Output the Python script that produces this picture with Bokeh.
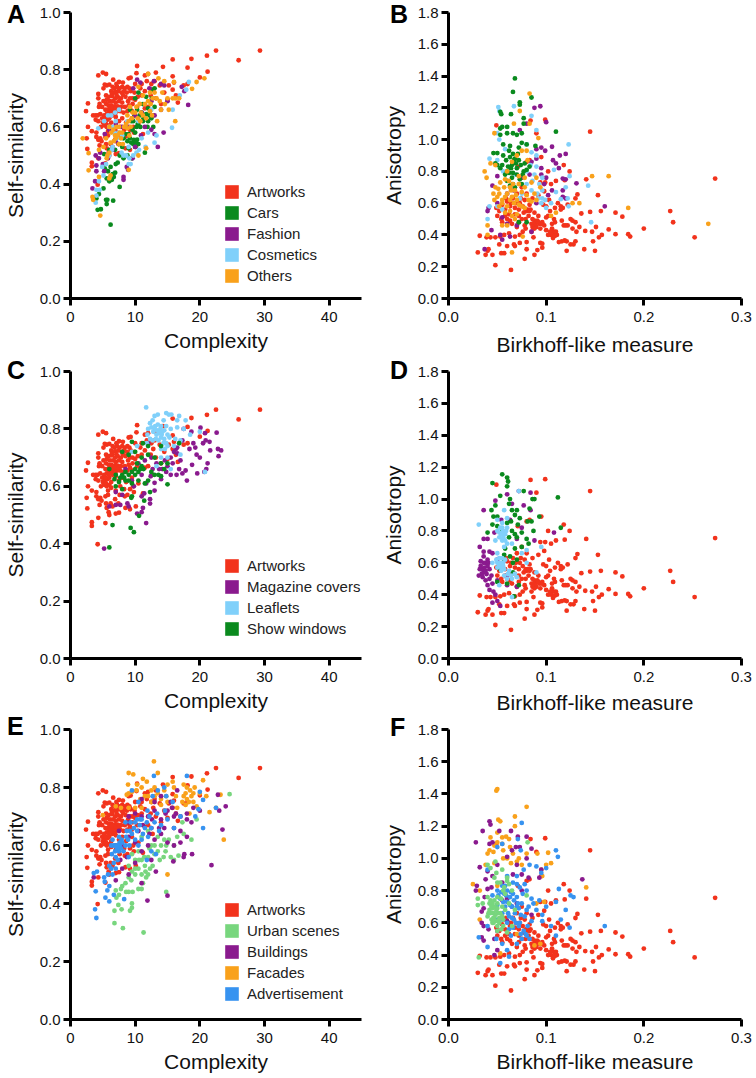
from bokeh.embed import file_html
from bokeh.resources import INLINE
from bokeh.plotting import figure
from bokeh.layouts import column, row
from bokeh.models import FixedTicker, NumeralTickFormatter, Legend, LegendItem, Div, ColumnDataSource
from bokeh.core.properties import value

FONT = "Liberation Sans"
RED, GREEN, PURPLE, SKY, ORANGE, LIME, BLUE = "#F2331C", "#0A8A1E", "#8A1A8E", "#80D0FA", "#F9A11B", "#78D67E", "#3793F0"
NAN = float("nan")

art_c = [(29.3,.867),(26,.833),(22.5,.867),(21.1,.849),(21.2,.793),(20,.773),(18.7,.838),(18.1,.807),(15.8,.836),(14.3,.81),(13.2,.79),(10.3,.813),(10.2,.788),(5,.79),(5.5,.785),(4.3,.78),(11.5,.78),(12,.785),(15.8,.777),(9,.77),(9.3,.772),(6.6,.765),(7.5,.757),(2.7,.682),(2.4,.655),(2.7,.6),(3.3,.585),(2.5,.56),(2.6,.523),(3.3,.475),(3.3,.462),(4.3,.49),(5.4,.472),(4.2,.398),(6,.5),(7,.505),(7.5,.508),(8.5,.525),(9.2,.52),(4.5,.535),(4.3,.555),(4,.58),(4,.565),(4.6,.56),(5.5,.54),(5.6,.525),(6.2,.54),(7.4,.54),
(5.3,.748),(5.6,.745),(6,.748),(6.5,.74),(6.8,.735),(7.2,.74),(7.6,.735),(8,.74),(8.4,.735),(8.8,.74),(9.1,.735),(6.3,.725),(6.9,.722),(7.4,.725),(7.9,.72),(8.3,.725),(8.7,.72),(9.3,.725),(9.9,.72),(4.3,.715),(4.3,.7),(5.5,.71),(5.9,.705),(6.4,.708),(6.9,.7),(7.3,.705),(7.8,.7),(8.5,.705),(9.6,.7),(10.4,.705),(11,.71),(5.6,.695),(6.1,.69),(6.6,.69),(7,.685),(7.5,.69),(8,.685),(4.5,.68),(4.4,.67),(5.5,.68),(5.9,.675),(6.3,.675),(6.8,.672),(7.3,.672),(7.8,.67),(8.4,.67),(9,.675),(9.6,.68),(10.3,.67),(5.4,.66),(5.8,.66),(6.2,.66),(6.7,.658),(7.2,.655),(7.7,.655),(8.2,.65),(8.8,.655),(9.5,.655),(11.5,.665),(12,.67),(12.7,.64),(3.5,.64),(4.2,.64),(4.6,.645),(4.9,.63),(3.9,.625),(4.3,.62),(5,.615),(5.3,.62),(5.7,.625),(6,.63),(6.5,.64),(7,.635),(7.5,.62),(8,.63),(8.6,.615),(9.5,.63),(10.5,.61),(5.2,.605),(5.6,.6),(6,.605),(6.3,.595),(7.7,.6),(8.3,.59),(9.2,.59),(9.8,.58),(11.2,.575),(4.7,.6),(7,.585),(7.6,.57),(8.4,.565),(5.8,.57),
(11,.75),(11.8,.76),(12.5,.75),(13,.76),(13.8,.745),(14.5,.72),(15.2,.745),(15.8,.73),(16.3,.71),(16,.755),(17.5,.745),(18.1,.75),(15,.695),(14,.68),(13.2,.7),(12.4,.71),(11.5,.725),(12.8,.73),(10,.75),(10.8,.735),(16.6,.685),(4.8,.55),(5.9,.51),(6.5,.53),(5.4,.565),(6.9,.555),(8.8,.57),(9.7,.6),(10.1,.53),
(5.1,.69),(6.4,.715),(7.1,.712),(8.1,.712),(6.1,.67),(6.5,.668),(7,.665),(7.5,.665),(6,.65),(6.4,.648),(6.9,.645),(5.6,.645),(5.2,.64),(5.4,.63),(5.9,.64),(6.3,.615),(5.5,.61),(5.8,.585),(9.2,.7),(8.9,.69),(9.2,.665),(10,.695),(8.1,.755),(7.1,.75),(5.1,.735),(4.9,.67),(3.9,.64)]

art_b = [(.273,.755),(.252,.385),(.23,.48),(.227,.55),(.2,.44),(.186,.39),(.184,.405),(.178,.515),(.171,.54),(.171,.405),(.164,.435),(.156,.55),(.157,.4),(.154,.385),(.151,.45),(.15,.3),(.153,.65),(.145,.545),(.147,.42),(.148,.36),(.145,1.05),(.141,.75),(.14,.425),(.139,.31),(.136,.535),(.134,.45),(.132,.655),(.13,.63),(.13,.48),(.13,.36),(.131,.42),(.127,.49),(.125,.5),(.122,.59),(.124,.8),(.118,.84),(.119,.745),(.117,.57),(.115,.58),(.112,.6),(.118,.46),(.12,.46),(.122,.46),(.116,.49),(.116,.36),(.119,.365),(.121,.36),(.113,.355),(.127,.44),(.128,.34),(.125,.34),(.121,.3),(.111,.4),(.108,.42),(.11,.42),(.106,.44),(.105,.4),(.107,.38),(.106,.47),(.104,.55),(.103,.62),(.102,.8),(.11,.74),(.105,.72),(.098,.675),(.099,.73),(.094,.73),(.097,.59),(.1,.58),(.102,.52),(.096,.48),(.093,.47),(.09,.48),(.088,.49),(.086,.5),(.085,.47),(.09,.45),(.094,.44),(.098,.46),(.092,.52),(.088,.54),(.084,.56),(.08,.55),(.082,.52),(.077,.54),(.075,.5),(.072,.48),(.079,.44),(.076,.42),(.073,.4),(.068,.39),(.062,.41),(.057,.4),(.053,.39),(.048,.385),(.043,.385),(.039,.385),(.032,.395),(.03,.29),(.038,.275),(.04,.3),(.041,.31),(.045,.275),(.048,.21),(.054,.285),(.057,.285),(.064,.18),(.06,.33),(.052,.34),(.067,.34),(.068,.33),(.073,.35),(.078,.25),(.08,.31),(.08,.355),(.087,.385),(.088,.275),(.091,.305),(.094,.35),(.096,.32),(.096,.345),(.085,.42),(.078,.46),(.07,.45),(.065,.47),(.06,.5),(.055,.48),(.05,.52),(.052,.55),(.058,.56),(.063,.58),(.068,.57),(.073,.6),(.078,.62),(.083,.59),(.072,.52),(.062,.53),(.09,1.04),(.084,1.12),(.099,1.125),(.049,1.09),(.095,.89),(.092,.65),(.086,.63),(.08,.66),(.075,.7),(.07,.66),(.066,.63),(.06,.61),(.071,.83),(.08,.86),(.083,.87),(.109,.57),(.1,.51),(.108,.5),(.109,.48),(.115,.56),
(.087,.47),(.089,.46),(.091,.49),(.086,.45),(.088,.44),(.092,.48),(.095,.47),(.083,.55),(.081,.56),(.079,.56),(.076,.58),(.072,.56),(.068,.53),(.063,.49),(.058,.52),(.054,.5),(.049,.57),(.055,.59),(.059,.63),(.064,.6),(.069,.6),(.074,.63),(.079,.5),(.1,.43),(.102,.4),(.104,.42),(.109,.395)]

cars_c = [(6.2,.258),(4.2,.31),(4.7,.312),(5.6,.33),(5.5,.345),(5.7,.345),(6.6,.342),(4,.35),(4.4,.365),(5.1,.385),(7.6,.39),(6,.41),(6.4,.415),(6.7,.425),(5.6,.42),(6.9,.44),(6.5,.435),(5.3,.455),(5.8,.445),(6.2,.46),(7,.47),(7.3,.475),(5.2,.505),(6,.52),(6.9,.52),(7.6,.5),(8.2,.49),(8.8,.5),(9.5,.49),(9,.525),(10,.53),(9.4,.545),(10.5,.54),(9.8,.555),(10.3,.555),(8.8,.55),(8.2,.56),(9,.575),(9.6,.59),(10.2,.6),(10.8,.6),(11.5,.51),(11.2,.62),(12,.62),(12.5,.63),(11.7,.645),(12.8,.6),(11,.65),(9.9,.64),(10.3,.66),(9.4,.62),(9.2,.66),(12,.665),(12.6,.7),(13,.735),(12.5,.73),(11.7,.705),(11.2,.68),(10.5,.72),(10,.58),(9.2,.56),(9.7,.54),(10.1,.545),(8.5,.575),(8,.53),(7.5,.54),(10.7,.64),(11.3,.63),(11.9,.6),(12.2,.64),(13,.67),(10,.7),(9.7,.62),(10.4,.61)]
fashion_c = [(3.4,.385),(3.8,.41),(4,.445),(4,.465),(3.9,.5),(4.4,.49),(4.6,.51),(5,.47),(5.2,.445),(5.8,.49),(6.5,.52),(7,.55),(8.2,.425),(8.2,.415),(8.7,.46),(8.9,.45),(9.6,.49),(10,.53),(10.9,.57),(12.5,.59),(13,.575),(13.5,.53),(14.4,.58),(13,.64),(14,.66),(12.5,.69),(12.2,.735),(10.3,.765),(10.8,.755),(9.7,.735),(12.9,.76),(14,.75),(14.5,.745),(17.2,.74),(17.6,.725),(18.2,.677),(15,.69),(11,.65),(9,.6),(8,.6),(7,.61),(6,.59),(5.3,.575),(11.5,.6),(10,.64)]
cosm_c = [(3.9,.335),(4,.38),(4.5,.38),(4,.36),(4.4,.41),(4.9,.46),(5.5,.47),(6,.5),(6.5,.53),(6,.6),(5.8,.64),(4.3,.595),(7,.62),(6.9,.65),(7.4,.58),(8.2,.5),(9,.47),(9.3,.47),(9.1,.49),(10.2,.51),(10.6,.52),(11.6,.53),(13,.545),(13.3,.57),(15.7,.597),(15.8,.66),(18.3,.757),(17.9,.73),(16.9,.71),(12,.58),(11,.56),(9,.53),(8,.57),(7.5,.66),(8.8,.62),(10.5,.62),(12.5,.66),(6.3,.64),(6.5,.6),(7.2,.56),(6.7,.58),(7.9,.51),(8.6,.5),(6.4,.52),(5.1,.43),(9.7,.5),(5.2,.62)]
other_c = [(1.9,.56),(2.8,.508),(2.8,.448),(3.4,.355),(3.5,.345),(4.6,.29),(4.4,.425),(4.4,.52),(5.1,.53),(5.7,.5),(6.2,.43),(6,.42),(6.2,.545),(7,.56),(7.6,.58),(8.1,.54),(7.1,.6),(6.3,.58),(6,.6),(6.9,.57),(7.8,.56),(8.3,.6),(8.8,.595),(9,.62),(8.8,.64),(9.5,.63),(10,.65),(10.4,.63),(10.9,.65),(11.2,.64),(11.7,.63),(12.3,.655),(12.6,.64),(13.4,.62),(14,.66),(14.6,.68),(15.2,.66),(16.2,.62),(16.2,.7),(16.8,.7),(15.8,.7),(15,.7),(13.8,.69),(12.7,.7),(12.3,.72),(13,.72),(13.6,.77),(14.5,.76),(16,.757),(18.8,.733),(19.5,.757),(20.7,.77),(12,.785),(10.5,.74),(11.2,.71),(10.5,.5),(11.7,.525),(9,.45),(9.1,.57),(7.5,.54),(6.7,.55),(7.3,.57),(8,.58),(6.6,.59),(7.5,.6),(8.6,.61),(9.3,.6),(9.6,.65),(10.2,.67),(10.7,.68),(9.2,.67),(11.5,.68),(12,.69),(13.3,.7),(14.2,.72),(6,.51),(5.5,.56),(5.6,.49),(10.8,.62),(12.4,.68)]

cars_b = [(.068,1.385),(.066,1.3),(.073,1.235),(.073,1.22),(.085,1.265),(.053,1.175),(.054,1.16),(.064,1.16),(.077,1.135),(.077,1.1),(.06,1.08),(.053,1.07),(.055,1.08),(.053,1.03),(.06,1.04),(.066,1.04),(.07,1.03),(.075,1.04),(.11,1.05),(.089,.96),(.08,.97),(.072,.95),(.063,.96),(.056,.97),(.046,.915),(.05,.915),(.056,.9),(.063,.89),(.068,.88),(.072,.87),(.078,.85),(.083,.83),(.07,.82),(.065,.84),(.06,.8),(.055,.84),(.05,.84),(.07,.78),(.077,.8),(.065,.76),(.058,.78),(.06,.74),(.075,.72),(.068,.7),(.063,.71),(.072,.48),(.08,.48),(.064,.82),(.067,.87),(.069,.85),(.066,.91),(.062,.93),(.059,.87),(.061,.83),(.062,.79),(.074,.84),(.076,.78),(.08,.81),(.073,.75),(.066,.72),(.053,.82),(.048,.85),(.071,.91),(.075,.98),(.066,.79)]
fashion_b = [(.094,1.21),(.088,1.2),(.08,1.1),(.073,1.06),(.1,1.11),(.106,.955),(.095,.95),(.099,.93),(.107,.87),(.114,.9),(.12,.91),(.11,.85),(.117,.755),(.113,.82),(.09,.88),(.083,.78),(.095,.78),(.12,.75),(.131,.725),(.117,.68),(.12,.63),(.117,.64),(.16,.58),(.102,.65),(.09,.6),(.05,.77),(.045,.71),(.041,.57),(.04,.55),(.05,.6),(.055,.51),(.06,.47),(.053,.4),(.055,.37),(.063,.39),(.037,.31),(.044,.43),(.07,.46),(.085,.42),(.075,.76),(.067,.68),(.06,.66),(.095,.82),(.1,.76),(.09,.94),(.085,.86),(.098,.72),(.106,.68)]
cosm_b = [(.051,1.205),(.052,1.18),(.067,1.21),(.085,1.15),(.09,1.06),(.05,1.04),(.052,1.0),(.058,.94),(.08,.97),(.085,.92),(.042,.88),(.05,.87),(.056,.8),(.09,.83),(.096,.76),(.108,.81),(.123,.97),(.124,.77),(.12,.7),(.143,.71),(.11,.67),(.096,.63),(.115,.625),(.122,.63),(.123,.58),(.146,.48),(.04,.5),(.05,.58),(.042,.58),(.055,.56),(.08,.72),(.085,.68),(.091,.66),(.073,.63),(.068,.78),(.095,.6),(.1,.57),(.093,.72),(.088,.78),(.084,.84),(.09,.9),(.096,.68),(.092,.63),(.099,.62),(.105,.6),(.086,.74),(.08,.8),(.075,.66)]
other_b = [(.083,1.29),(.073,1.18),(.083,1.1),(.067,1.1),(.047,1.04),(.037,.8),(.039,.76),(.043,.85),(.048,.84),(.06,.8),(.065,.86),(.07,.9),(.075,.93),(.081,.87),(.09,.76),(.094,.7),(.085,.73),(.078,.7),(.072,.72),(.068,.68),(.063,.7),(.058,.75),(.053,.73),(.048,.7),(.046,.66),(.05,.64),(.055,.62),(.06,.66),(.065,.64),(.07,.62),(.075,.67),(.08,.65),(.085,.61),(.09,.62),(.055,.6),(.052,.58),(.058,.54),(.065,.52),(.07,.53),(.075,.58),(.06,.46),(.055,.46),(.04,.46),(.04,.4),(.076,.39),(.065,.29),(.147,.77),(.164,.77),(.184,.57),(.266,.47),(.134,.6),(.127,.6),(.11,.54),(.105,.52),(.092,1.01),(.08,.93),(.066,.72),(.064,.68),(.069,.65),(.067,.6),(.063,.62),(.058,.64),(.052,.66),(.047,.62),(.051,.69),(.057,.7),(.062,.74),(.072,.77),(.078,.76),(.082,.62),(.088,.66),(.06,.58),(.063,.55),(.068,.5),(.072,.59),(.078,.57)]

mag_c = [(5.2,.383),(11.7,.472),(10.3,.505),(11,.51),(11.2,.525),(9,.53),(7,.535),(7.7,.535),(6,.53),(8.8,.54),(12.3,.54),(12.3,.555),(11,.565),(11.4,.575),(13,.585),(8,.57),(7,.58),(9.8,.6),(11.7,.61),(13,.612),(14,.625),(12.4,.635),(11,.64),(15.5,.64),(16.4,.64),(17.3,.645),(18,.62),(19.6,.645),(20.7,.65),(21,.66),(21.2,.68),(18.8,.675),(19.5,.71),(19.3,.735),(18.4,.73),(19,.75),(20.5,.75),(20.9,.76),(22.9,.705),(22.8,.73),(23.3,.725),(21.6,.725),(22.6,.787),(21.5,.755),(20.8,.785),(20.1,.804),(18.7,.79),(17.5,.8),(17.3,.76),(16.5,.735),(16.5,.715),(15.5,.7),(15,.67),(14.2,.66),(13.3,.68),(12.5,.7),(11.5,.69),(10.5,.68),(12,.75),(9.5,.62),(8.5,.66),(17.8,.655),(16.8,.66),(17,.69),(15.8,.68),(14.8,.65),(20,.7),(16,.72),(16.3,.73),(14.6,.69),(13.7,.66),(12.7,.66)]
leaf_c = [(11.7,.875),(13,.845),(13.5,.85),(14.8,.855),(15.2,.85),(15.6,.85),(16.8,.845),(16.5,.83),(17.8,.83),(14.4,.83),(12.7,.83),(12.3,.82),(13.5,.815),(14,.81),(14.8,.81),(15.5,.8),(16.5,.805),(17.5,.8),(18.5,.78),(20,.79),(13,.8),(12.8,.79),(13.3,.78),(13.7,.785),(14.2,.79),(14,.77),(13.6,.76),(14.5,.765),(15,.78),(14.4,.75),(15,.74),(12.3,.765),(11.8,.75),(16.2,.765),(17,.76),(16,.74),(17,.71),(15,.7),(14,.7),(13.3,.67),(15.5,.66),(20.8,.65),(9.5,.72),(10.3,.74),(13.1,.81),(13.9,.8),(14.5,.795),(13.4,.795),(12.5,.805),(14.1,.78),(14.8,.75),(13.2,.765),(12.7,.76),(15.3,.77),(14.6,.73),(14,.73),(12,.8),(11.9,.78)]
show_c = [(6.5,.465),(6,.387),(9.3,.455),(9.8,.44),(10.6,.497),(11.4,.55),(12.3,.58),(9.5,.565),(9.4,.56),(15,.607),(8,.59),(7,.6),(6,.66),(7,.64),(7.7,.63),(8.5,.62),(9,.64),(9.5,.65),(10,.66),(10.5,.65),(11,.67),(10.5,.62),(11.5,.61),(8.5,.65),(7.5,.615),(9.5,.61),(12,.62),(13,.64),(13.6,.64),(14.5,.66),(15,.68),(14,.68),(13,.7),(12,.71),(11,.7),(10,.72),(9,.71),(8,.72),(9.5,.755),(11.2,.75),(12,.74),(14,.74),(16.8,.75),(14,.635),(12.5,.65),(10.3,.68),(10.8,.66),(8,.64),(9,.62),(8.3,.63),(10,.64),(11.3,.66),(6.8,.625)]

mag_b = [(.032,.7),(.036,.64),(.033,.61),(.032,.56),(.031,.52),(.034,.56),(.036,.54),(.038,.6),(.04,.58),(.042,.56),(.044,.52),(.038,.49),(.04,.46),(.042,.43),(.046,.42),(.048,.4),(.05,.36),(.053,.33),(.045,.35),(.04,.62),(.036,.67),(.04,.75),(.042,.67),(.045,.66),(.05,.62),(.055,.58),(.06,.52),(.05,.49),(.06,.46),(.07,.45),(.036,.93),(.048,.99),(.06,1.03),(.072,1.05),(.084,1.04),(.065,.97),(.077,.96),(.084,.93),(.075,.82),(.07,.75),(.088,.74),(.063,.87),(.054,.87),(.047,.79),(.108,.79),(.036,.75),(.038,.55),(.034,.53),(.033,.58),(.036,.6),(.039,.53),(.042,.5),(.045,.47),(.035,.51),(.037,.57),(.041,.6)]
leaf_b = [(.031,.84),(.072,1.05),(.057,.93),(.095,.7),(.065,.385),(.05,.87),(.055,.85),(.053,.82),(.056,.8),(.058,.78),(.052,.76),(.048,.74),(.055,.74),(.06,.72),(.065,.72),(.06,.82),(.06,.88),(.052,.63),(.053,.6),(.056,.58),(.05,.57),(.054,.55),(.057,.52),(.06,.5),(.065,.5),(.062,.55),(.068,.53),(.05,.66),(.045,.6),(.052,.46),(.08,.68),(.075,.66),(.09,.54),(.08,.6),(.05,.8),(.057,.7),(.058,.62),(.055,.63),(.054,.78),(.056,.76),(.058,.74),(.052,.79),(.055,.82),(.059,.8),(.05,.6),(.052,.58),(.054,.6),(.057,.56),(.054,.57),(.056,.6),(.049,.62),(.064,.52),(.061,.53),(.07,.51)]
show_b = [(.055,1.155),(.06,1.135),(.061,1.11),(.06,1.08),(.045,1.1),(.077,1.05),(.053,1.02),(.086,1),(.088,1),(.063,1),(.062,.97),(.048,.96),(.044,.93),(.046,.89),(.05,.89),(.065,.93),(.07,.93),(.068,.9),(.073,.88),(.081,.86),(.085,.86),(.093,.89),(.083,.94),(.112,1.01),(.115,.82),(.087,.8),(.075,.79),(.045,.84),(.05,.83),(.06,.85),(.04,.79),(.055,.8),(.065,.8),(.07,.76),(.08,.75),(.082,.72),(.075,.7),(.068,.69),(.058,.69),(.063,.64),(.07,.62),(.057,.62),(.053,.56),(.066,.54),(.072,.46),(.06,.47),(.05,.48),(.067,.39),(.062,.76),(.068,.78),(.071,.84),(.064,.86),(.057,.65),(.066,.6)]

urban_c = [(11.3,.3),(8.1,.315),(6.8,.332),(6.8,.375),(7.4,.395),(7.9,.38),(9.2,.375),(9.5,.385),(9.5,.4),(14.8,.44),(7.5,.43),(7.1,.42),(7,.445),(7.8,.45),(8,.46),(8.5,.47),(9,.44),(9.6,.44),(10.5,.45),(11,.45),(11.2,.47),(9,.49),(9.5,.51),(10,.5),(10.5,.52),(11,.5),(11.7,.49),(12,.5),(9,.53),(10,.55),(11,.55),(11.5,.53),(12,.56),(12.7,.53),(13,.57),(13.5,.58),(14,.6),(14.7,.58),(15.5,.56),(16,.55),(16.7,.565),(16,.6),(15.2,.62),(14.5,.62),(13.5,.63),(12.5,.6),(10.5,.58),(9.5,.57),(18.7,.62),(19.5,.69),(17.5,.64),(16.5,.63),(24.6,.777),(17.3,.68),(12,.65),(11,.63),(12.2,.59),(13,.6),(11.4,.56),(10.6,.55),(10,.52),(9.4,.48),(8.6,.44),(13.8,.55),(14.4,.56),(12.3,.52),(11.6,.51),(14.8,.6)]
bldg_c = [(15,.427),(11.9,.41),(21.8,.532),(18.8,.57),(17.6,.57),(17.5,.56),(15.9,.545),(13.2,.51),(12.5,.55),(11,.47),(3.6,.49),(7,.48),(9,.5),(8,.52),(10,.54),(11,.58),(12,.6),(13,.62),(14,.64),(15,.61),(16,.6),(17,.61),(18,.63),(17,.65),(16,.66),(14.5,.66),(12.5,.66),(10.5,.65),(9,.63),(8,.6),(7.5,.65),(7,.6),(9,.7),(9,.68),(10,.71),(11,.7),(12,.7),(13,.72),(14,.69),(15,.72),(16,.7),(17,.7),(18,.69),(18.7,.68),(20,.72),(16.5,.79),(14,.77),(13,.75),(23,.72),(23.5,.655),(24,.735),(22.8,.775),(19,.73),(18,.71),(11,.76),(15.5,.75),(12.2,.64),(13.7,.66),(11.2,.67),(10,.61),(14.7,.71),(15.7,.73),(16.3,.71),(12.6,.69),(8.7,.56),(7.7,.55)]
fac_c = [(12.9,.89),(13.5,.85),(9,.85),(9.7,.845),(8.9,.81),(10.3,.81),(11.2,.83),(9,.78),(8.7,.775),(9.5,.785),(10.2,.79),(11,.8),(11.5,.77),(12.5,.79),(13.5,.78),(14.5,.79),(15,.81),(15.8,.82),(16,.8),(17.5,.81),(18,.8),(18.5,.79),(19.2,.8),(17.5,.77),(18,.76),(18.7,.77),(19,.75),(19.5,.735),(17.3,.75),(16.5,.73),(15,.75),(14,.74),(12.5,.75),(11,.73),(10,.73),(9,.73),(7.8,.73),(7,.735),(5,.705),(17.8,.74),(20,.78),(20.5,.825),(21,.77),(21.5,.715),(23.2,.775),(23.7,.62),(15,.5),(22.5,.73),(11.8,.82),(13,.8),(16.3,.77),(18.4,.71),(17.8,.78),(18.3,.75),(19,.78),(10.8,.76),(12,.77),(13,.77),(14,.76),(14.8,.77)]
adv_c = [(4,.35),(3.8,.38),(3.9,.442),(5.4,.42),(6,.407),(6.7,.43),(8.3,.415),(5.7,.445),(5.3,.475),(5.2,.49),(4.1,.51),(3.6,.505),(6,.46),(6.5,.5),(7,.52),(6,.53),(7,.56),(7.5,.58),(6.7,.6),(7.3,.6),(7.8,.59),(8,.61),(8.5,.6),(6.5,.62),(7.5,.63),(8.7,.65),(9.5,.64),(10,.62),(10.5,.6),(11,.62),(9.3,.68),(10,.68),(10.7,.67),(11.5,.66),(12,.63),(12.5,.58),(13.2,.57),(11.8,.55),(13,.68),(14,.67),(15,.69),(16,.66),(15.8,.75),(14.5,.8),(13.5,.79),(12.9,.84),(11.9,.72),(10.5,.75),(9.5,.79),(12.7,.77),(14.8,.77),(17,.7),(18,.84),(19.3,.7),(20,.785),(20.5,.757),(20.5,.66),(19.8,.725),(22.5,.73),(8.5,.68),(9,.56),(7.2,.59),(7.6,.61),(6.9,.58),(8.2,.58),(7,.6),(7.6,.6),(6.3,.6),(6.7,.54),(7.9,.62),(8.9,.62),(9.2,.65),(10.3,.65),(11.2,.64),(9.1,.6),(12.5,.66),(13.7,.65),(10.8,.69),(11.8,.68),(5.8,.5),(6.3,.52),(9.8,.66),(10.3,.69),(11,.69),(8.6,.63),(7.3,.55),(6.4,.57),(12.2,.7),(13.4,.71),(14.6,.72)]

urban_b = [(.031,.385),(.03,.75),(.03,.71),(.035,.72),(.04,.76),(.042,.72),(.045,.69),(.05,.66),(.047,.63),(.052,.6),(.05,.58),(.056,.62),(.045,.6),(.04,.64),(.047,.7),(.05,.76),(.056,.8),(.05,.85),(.047,.88),(.043,.94),(.048,.98),(.055,.93),(.06,.86),(.065,.8),(.062,.72),(.058,.68),(.054,.56),(.06,.54),(.065,.58),(.081,1.1),(.068,.68),(.05,.72),(.046,.66),(.044,.62),(.08,.77),(.055,.7),(.06,.88),(.04,.96),(.043,.66),(.046,.63),(.048,.65),(.045,.72),(.042,.68),(.048,.61),(.052,.63),(.05,.69),(.053,.66),(.047,.74),(.054,.75),(.057,.82),(.053,.85),(.049,.91),(.05,.55),(.056,.58),(.044,.7),(.049,.68),(.046,.6),(.051,.61),(.043,.74),(.055,.64),(.058,.78),(.062,.84),(.041,.66)]
bldg_b = [(.032,.945),(.029,.83),(.028,.8),(.028,1.1),(.035,1.17),(.042,1.23),(.043,1.21),(.042,1.09),(.045,1.1),(.052,1.17),(.064,1.17),(.071,1.135),(.08,1.135),(.069,1.07),(.065,1.05),(.073,1.07),(.085,1.06),(.095,.93),(.093,.88),(.137,.87),(.082,.88),(.075,.8),(.07,.72),(.065,.7),(.06,.75),(.055,.85),(.05,.96),(.045,.89),(.04,.92),(.036,.69),(.034,.67),(.034,.6),(.036,.58),(.034,.51),(.036,.49),(.047,.5),(.05,.43),(.047,.4),(.06,.61),(.07,.96),(.06,1.01),(.08,1.0),(.055,.74),(.085,.65),(.04,.81),(.038,.87),(.044,.82),(.037,.76),(.041,.56),(.05,.55),(.066,.9),(.075,.9)]
fac_b = [(.05,1.43),(.049,1.42),(.08,1.32),(.068,1.26),(.051,1.24),(.053,1.23),(.068,1.2),(.05,1.16),(.043,1.13),(.055,1.13),(.059,1.135),(.062,1.12),(.05,1.1),(.047,1.08),(.04,1.03),(.042,1.05),(.046,1.04),(.056,1.0),(.06,1.0),(.066,1.03),(.07,.98),(.075,.96),(.08,1.03),(.091,1.03),(.102,1.035),(.1,.96),(.105,.97),(.095,.93),(.096,.89),(.141,.82),(.025,.84),(.032,.8),(.032,.62),(.038,.96),(.05,.83),(.06,.76),(.09,.72),(.098,.73),(.088,.46),(.094,.47),(.053,.41),(.07,.53),(.064,.97),(.056,1.05),(.047,.97),(.072,1.0),(.055,1.09),(.063,1.07)]
adv_b = [(.075,1.22),(.055,1.09),(.071,1.12),(.074,1.05),(.05,1.07),(.11,1.05),(.112,1.01),(.1,.94),(.095,.91),(.09,.95),(.083,.96),(.077,.93),(.07,.89),(.066,.85),(.06,.89),(.055,.83),(.05,.8),(.045,.77),(.04,.93),(.05,.71),(.055,.66),(.06,.6),(.065,.7),(.07,.76),(.075,.72),(.08,.8),(.085,.75),(.09,.68),(.096,.65),(.1,.7),(.11,.73),(.113,.81),(.125,.77),(.128,.76),(.12,.68),(.115,.62),(.16,.58),(.124,.57),(.11,.52),(.105,.58),(.096,.61),(.085,.61),(.08,.52),(.075,.5),(.07,.47),(.064,.52),(.06,.43),(.055,.47),(.049,.5),(.04,.45),(.031,.51),(.053,.35),(.062,.39),(.07,.84),(.08,.68),(.067,.62),(.072,.58),(.04,.58),(.05,.62),(.057,.78),(.053,.75),(.06,.73),(.063,.76),(.067,.74),(.058,.7),(.061,.66),(.055,.62),(.068,.66),(.072,.69),(.076,.78),(.078,.84),(.073,.82),(.064,.79),(.069,.6),(.062,.56),(.077,.55),(.083,.5),(.081,.58),(.087,.72),(.093,.74),(.071,.72),(.06,.8),(.065,.63),(.074,.65),(.054,.79),(.058,.83),(.063,.71),(.066,.78),(.07,.7),(.059,.77),(.062,.64),(.056,.73),(.051,.77),(.066,.57),(.073,.6),(.078,.64),(.082,.7),(.079,.53),(.074,.53)]

panel_a = [("Artworks",art_c,RED),("Cars",cars_c,GREEN),("Fashion",fashion_c,PURPLE),("Cosmetics",cosm_c,SKY),("Others",other_c,ORANGE)]
panel_b = [("Artworks",art_b,RED),("Fashion",fashion_b,PURPLE),("Cosmetics",cosm_b,SKY),("Cars",cars_b,GREEN),("Others",other_b,ORANGE)]
panel_c = [("Artworks",art_c,RED),("Magazine covers",mag_c,PURPLE),("Leaflets",leaf_c,SKY),("Show windows",show_c,GREEN)]
panel_d = [("Artworks",art_b,RED),("Magazine covers",mag_b,PURPLE),("Show windows",show_b,GREEN),("Leaflets",leaf_b,SKY)]
panel_e = [("Artworks",art_c,RED),("Facades",fac_c,ORANGE),("Urban scenes",urban_c,LIME),("Buildings",bldg_c,PURPLE),("Advertisement",adv_c,BLUE)]
panel_f = [("Artworks",art_b,RED),("Facades",fac_b,ORANGE),("Buildings",bldg_b,PURPLE),("Advertisement",adv_b,BLUE),("Urban scenes",urban_b,LIME)]
legend_a = [("Artworks",RED),("Cars",GREEN),("Fashion",PURPLE),("Cosmetics",SKY),("Others",ORANGE)]
legend_c = [("Artworks",RED),("Magazine covers",PURPLE),("Leaflets",SKY),("Show windows",GREEN)]
legend_e = [("Artworks",RED),("Urban scenes",LIME),("Buildings",PURPLE),("Facades",ORANGE),("Advertisement",BLUE)]
panel_letters = ["A", "B", "C", "D", "E", "F"]

COMPLEX_TICKS = [0, 10, 20, 30, 40]
SELF_TICKS = [0, .2, .4, .6, .8, 1.0]
BIRK_TICKS = [0, .1, .2, .3]
ANISO_TICKS = [0, .2, .4, .6, .8, 1.0, 1.2, 1.4, 1.6, 1.8]


def make(series, is_left, top, frame_h, bottom, lab_off, legend=None, leg_y=0):
    left, frame_w, right = (68, 293, 11) if is_left else (76, 293, 15)
    height = top + frame_h + bottom
    p = figure(width=left + frame_w + right, height=height,
               x_range=(0, 45) if is_left else (0, .3),
               y_range=(0, 1) if is_left else (0, 1.8),
               output_backend="svg", toolbar_location=None,
               min_border_left=left, min_border_right=right, min_border_top=top, min_border_bottom=bottom)
    p.grid.visible = False
    p.outline_line_color = None
    p.background_fill_color = None
    p.border_fill_color = None
    for _, pts, col in series:
        src = ColumnDataSource(dict(x=[a for a, _b in pts], y=[b for _a, b in pts]))
        p.scatter("x", "y", source=src, size=4.8, color=col, line_color=None)
    p.xaxis.ticker = FixedTicker(ticks=COMPLEX_TICKS if is_left else BIRK_TICKS)
    p.yaxis.ticker = FixedTicker(ticks=SELF_TICKS if is_left else ANISO_TICKS)
    p.yaxis.formatter = NumeralTickFormatter(format="0.0")
    p.xaxis.formatter = NumeralTickFormatter(format="0" if is_left else "0.0")
    p.xaxis.axis_label = "Complexity" if is_left else "Birkhoff-like measure"
    p.yaxis.axis_label = "Self-similarity" if is_left else "Anisotropy"
    for ax in (p.xaxis[0], p.yaxis[0]):
        ax.axis_line_width = 3
        ax.axis_line_color = "black"
        ax.major_tick_line_width = 3
        ax.major_tick_line_color = "black"
        ax.major_tick_in = 0
        ax.major_tick_out = 7
        ax.minor_tick_line_color = None
        ax.major_label_text_font = FONT
        ax.major_label_text_font_size = "15px"
        ax.major_label_text_color = "#111111"
        ax.axis_label_text_font = FONT
        ax.axis_label_text_font_size = "21px"
        ax.axis_label_text_font_style = "normal"
        ax.axis_label_text_color = "#111111"
    p.xaxis[0].major_label_standoff = 6
    p.yaxis[0].major_label_standoff = 3
    p.xaxis[0].axis_label_standoff = lab_off
    p.yaxis[0].axis_label_standoff = 10
    if legend:
        items = []
        for name, col in legend:
            r = p.quad(left=[NAN], right=[NAN], top=[NAN], bottom=[NAN], color=col, line_color=None)
            items.append(LegendItem(label=value(name), renderers=[r]))
        lg = Legend(items=items, location=(153, leg_y), orientation="vertical",
                    background_fill_alpha=0, border_line_color=None, padding=0, margin=0,
                    glyph_width=17, glyph_height=17, label_height=17, label_width=30,
                    spacing=4, label_standoff=7, label_text_font=FONT,
                    label_text_font_size="15px", label_text_color="#222222")
        p.add_layout(lg, "center")
    return p


def letter(txt, left, top):
    return Div(text=txt, width=30, height=26, margin=0,
               styles={"position": "absolute", "left": f"{left}px", "top": f"{top}px", "z-index": "5",
                       "font-family": FONT, "font-weight": "bold", "font-size": "25px",
                       "line-height": "25px", "color": "black"})


a = make(panel_a, True, 12, 292, 54, 4, legend_a, 14)
b = make(panel_b, False, 12, 292, 54, 8)
c = make(panel_c, True, 13, 292, 53, 4, legend_c, 21)
d = make(panel_d, False, 13, 292, 53, 6)
e = make(panel_e, True, 13, 290, 59, 4, legend_e, 17)
f = make(panel_f, False, 13, 290, 59, 4)

letter_left = [7, 390, 7, 390, 7, 390]
letter_top = [2, 2, 358, 358, 714, 715]
divs = [letter(t, x, y) for t, x, y in zip(panel_letters, letter_left, letter_top)]
layout = column(row(a, b, spacing=0), row(c, d, spacing=0), row(e, f, spacing=0), *divs, spacing=0)
open("out.html", "w").write(file_html(layout, INLINE))
